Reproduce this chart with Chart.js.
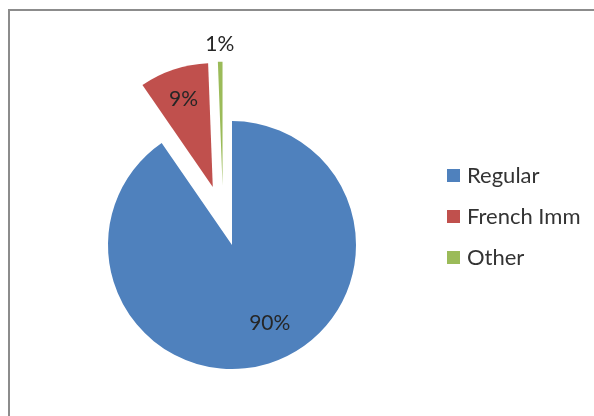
<!DOCTYPE html>
<html>
<head>
    <meta charset="utf-8">
    <title>Program share</title>
    <script src="https://cdn.jsdelivr.net/npm/chart.js"></script>
    <style>
        html, body {
            margin: 0;
            padding: 0;
            background: #fff;
            overflow: hidden;
        }
        .frame {
            position: absolute;
            left: 8px;
            top: 9px;
            width: 640px;
            height: 460px;
            border: 2px solid #8c8c8c;
            box-sizing: border-box;
        }
        .wrap {
            position: absolute;
            left: 0;
            top: 0;
            width: 594px;
            height: 416px;
        }
        .legend {
            position: absolute;
            left: 447px;
            top: 160px;
            font-family: Lato, "Open Sans", sans-serif;
            font-size: 22px;
            color: #333;
        }
        .legend div {
            height: 41px;
            line-height: 30px;
            white-space: nowrap;
        }
        .legend span {
            display: inline-block;
            width: 13px;
            height: 13px;
            margin-right: 7px;
            vertical-align: 1px;
        }
    </style>
</head>
<body>
    <div class="frame"></div>
    <div class="wrap"><canvas id="pie"></canvas></div>
    <div class="legend" id="legend"></div>

    <script>
        const categories = ['Regular', 'French Imm', 'Other'];
        const shares = [90.4, 9.0, 0.6];
        const colors = ['#4F81BD', '#C0504D', '#9BBB59'];

        // how far each slice is pulled out, and a small tweak of the pull direction (deg)
        const explode = [0, 61, 60];
        const explodeTurn = [0, 0, -8];

        const deg = Math.PI / 180;

        // draw the arcs ourselves so the pull-out is a plain shift (chart.js offset also grows the radius)
        const explodePlugin = {
            id: 'explodePlugin',
            beforeDatasetDraw(chart, args) {
                const ctx = chart.ctx;
                args.meta.data.forEach((arc, i) => {
                    const mid = (arc.startAngle + arc.endAngle) / 2 + explodeTurn[i] * deg;
                    ctx.save();
                    ctx.translate(Math.cos(mid) * explode[i], Math.sin(mid) * explode[i]);
                    arc.draw(ctx);
                    ctx.restore();
                });
                return false;
            }
        };

        // percent labels inside / outside the slices
        const pctLabels = {
            id: 'pctLabels',
            afterDatasetsDraw(chart) {
                const ctx = chart.ctx;
                const meta = chart.getDatasetMeta(0);
                const total = shares.reduce((a, b) => a + b, 0);
                const where = [0.7, 0.75, 1.14];
                const turn = [-8.5, 0, 0];
                ctx.save();
                ctx.font = '21px Lato, "Open Sans", sans-serif';
                ctx.fillStyle = '#262626';
                ctx.textAlign = 'center';
                ctx.textBaseline = 'middle';
                meta.data.forEach((arc, i) => {
                    const mid = (arc.startAngle + arc.endAngle) / 2;
                    const pull = mid + explodeTurn[i] * deg;
                    const cx = arc.x + Math.cos(pull) * explode[i];
                    const cy = arc.y + Math.sin(pull) * explode[i];
                    const a = mid + turn[i] * deg;
                    const r = arc.outerRadius * where[i];
                    ctx.fillText(Math.round(shares[i] / total * 100) + '%',
                        cx + Math.cos(a) * r, cy + Math.sin(a) * r);
                });
                ctx.restore();
            }
        };

        const canvas = document.getElementById('pie');
        canvas.width = 594;
        canvas.height = 416;

        new Chart(canvas, {
            type: 'pie',
            data: {
                labels: categories,
                datasets: [{
                    data: shares,
                    backgroundColor: colors,
                    borderWidth: 0,
                    clip: false
                }]
            },
            options: {
                responsive: false,
                animation: false,
                radius: 124,
                layout: {
                    padding: { left: 0, right: 130, top: 74, bottom: 0 }
                },
                plugins: {
                    legend: { display: false },
                    tooltip: { enabled: false }
                }
            },
            plugins: [explodePlugin, pctLabels]
        });

        const legend = document.getElementById('legend');
        categories.forEach((name, i) => {
            legend.innerHTML += `<div><span style="background:${colors[i]}"></span>${name}</div>`;
        });
    </script>
</body>
</html>
